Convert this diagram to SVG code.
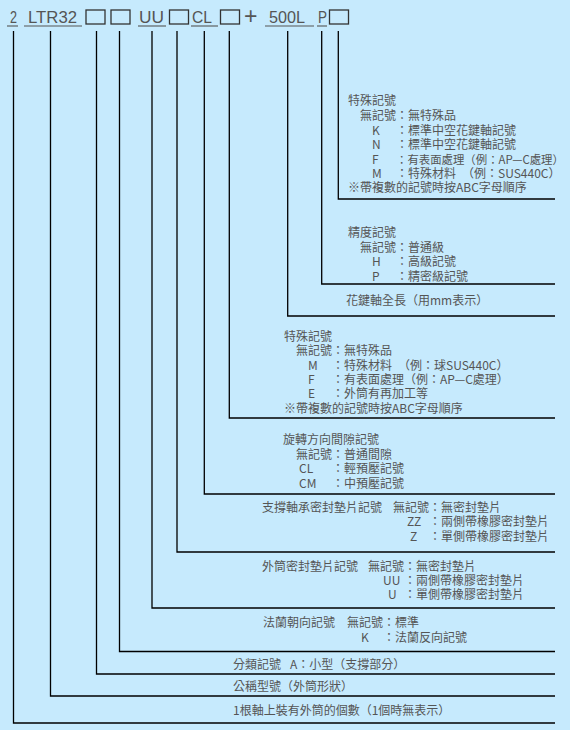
<svg xmlns="http://www.w3.org/2000/svg" width="570" height="730" viewBox="0 0 570 730">
<style>
.t{font-family:"Noto Sans CJK TC","Noto Sans CJK JP",sans-serif;font-size:12px;fill:#555}
.h{font-family:"Liberation Sans",Arial,sans-serif;font-size:16px;fill:#555}
.box{fill:none;stroke:#333;stroke-width:1.3}
.ul{stroke:#555;stroke-width:1.1}
.c{fill:none;stroke:#000;stroke-width:1.3}
</style>
<rect width="570" height="730" fill="#c6eafd"/>
<g id="code">
<text class="h" x="10" y="23" textLength="7" lengthAdjust="spacingAndGlyphs">2</text>
<line class="ul" x1="7" y1="26" x2="18" y2="26"/>
<text class="h" x="28" y="23" textLength="49" lengthAdjust="spacingAndGlyphs">LTR32</text>
<line class="ul" x1="24" y1="26" x2="82" y2="26"/>
<rect class="box" x="86" y="10" width="19" height="14"/>
<rect class="box" x="111" y="10" width="19" height="14"/>
<text class="h" x="139" y="23" textLength="25" lengthAdjust="spacingAndGlyphs">UU</text>
<line class="ul" x1="138" y1="26" x2="166" y2="26"/>
<rect class="box" x="169.5" y="10" width="19" height="14"/>
<text class="h" x="192" y="23" textLength="20" lengthAdjust="spacingAndGlyphs">CL</text>
<line class="ul" x1="191" y1="26" x2="218" y2="26"/>
<rect class="box" x="220.5" y="10" width="19" height="14"/>
<text class="h" x="244" y="24" style="font-size:23px">+</text>
<text class="h" x="269" y="23" textLength="36" lengthAdjust="spacingAndGlyphs">500L</text>
<line class="ul" x1="265" y1="26" x2="314" y2="26"/>
<text class="h" x="318" y="23" textLength="9" lengthAdjust="spacingAndGlyphs">P</text>
<line class="ul" x1="317" y1="26" x2="327" y2="26"/>
<rect class="box" x="329.5" y="10" width="19" height="14"/>
</g>
<g id="connectors">
<path class="c" d="M13.5 31V723H555"/>
<path class="c" d="M50.5 31V696H555"/>
<path class="c" d="M96.5 31V674H555"/>
<path class="c" d="M119.5 31V651.5H555"/>
<path class="c" d="M152 31V608H555"/>
<path class="c" d="M177 31V552H555"/>
<path class="c" d="M204.3 31V494H555"/>
<path class="c" d="M229.3 31V418H555"/>
<path class="c" d="M287.7 31V316H555"/>
<path class="c" d="M321.7 31V284H555"/>
<path class="c" d="M338.3 31V199H555"/>
</g>
<g id="special-shaft">
<text class="t" x="348" y="105">特殊記號</text>
<text class="t" x="360" y="120">無記號：無特殊品</text>
<text class="t" x="372" y="135">K</text><text class="t" x="396" y="135">：標準中空花鍵軸記號</text>
<text class="t" x="372" y="149">N</text><text class="t" x="396" y="149">：標準中空花鍵軸記號</text>
<text class="t" x="372" y="164">F</text><text class="t" x="396" y="164" style="font-size:11.4px">：有表面處理（例：AP—C處理）</text>
<text class="t" x="372" y="178">M</text><text class="t" x="396" y="178">：特殊材料　（例：SUS440C）</text>
<text class="t" x="348" y="192">※帶複數的記號時按ABC字母順序</text>
</g>
<g id="accuracy">
<text class="t" x="348" y="237">精度記號</text>
<text class="t" x="360" y="252">無記號：普通級</text>
<text class="t" x="372" y="266">H</text><text class="t" x="396" y="266">：高級記號</text>
<text class="t" x="372" y="281">P</text><text class="t" x="396" y="281">：精密級記號</text>
</g>
<g id="length">
<text class="t" x="346" y="305">花鍵軸全長（用mm表示）</text>
</g>
<g id="special-nut">
<text class="t" x="284" y="341">特殊記號</text>
<text class="t" x="296" y="355">無記號：無特殊品</text>
<text class="t" x="308" y="370">M</text><text class="t" x="332" y="370">：特殊材料　（例：球SUS440C）</text>
<text class="t" x="308" y="384">F</text><text class="t" x="332" y="384">：有表面處理（例：AP—C處理）</text>
<text class="t" x="308" y="398">E</text><text class="t" x="332" y="398">：外筒有再加工等</text>
<text class="t" x="284" y="413">※帶複數的記號時按ABC字母順序</text>
</g>
<g id="clearance">
<text class="t" x="283" y="444">旋轉方向間隙記號</text>
<text class="t" x="296" y="459">無記號：普通間隙</text>
<text class="t" x="299" y="473">CL</text><text class="t" x="332" y="473">：輕預壓記號</text>
<text class="t" x="299" y="488">CM</text><text class="t" x="332" y="488">：中預壓記號</text>
</g>
<g id="bearing-seal">
<text class="t" x="262" y="512">支撐軸承密封墊片記號</text>
<text class="t" x="393" y="512">無記號：無密封墊片</text>
<text class="t" x="407" y="526">ZZ</text><text class="t" x="429" y="526">：兩側帶橡膠密封墊片</text>
<text class="t" x="410" y="541">Z</text><text class="t" x="429" y="541">：單側帶橡膠密封墊片</text>
</g>
<g id="nut-seal">
<text class="t" x="262" y="571">外筒密封墊片記號</text>
<text class="t" x="368" y="571">無記號：無密封墊片</text>
<text class="t" x="383" y="585">UU</text><text class="t" x="404" y="585">：兩側帶橡膠密封墊片</text>
<text class="t" x="388" y="599">U</text><text class="t" x="404" y="599">：單側帶橡膠密封墊片</text>
</g>
<g id="flange">
<text class="t" x="263" y="627">法蘭朝向記號</text>
<text class="t" x="347" y="627">無記號：標準</text>
<text class="t" x="361" y="642">K</text><text class="t" x="383" y="642">：法蘭反向記號</text>
</g>
<g id="class">
<text class="t" x="233" y="669">分類記號</text><text class="t" x="290" y="669">A：小型（支撐部分）</text>
</g>
<g id="model">
<text class="t" x="233" y="691">公稱型號（外筒形狀）</text>
</g>
<g id="count">
<text class="t" x="233" y="715">1根軸上裝有外筒的個數（1個時無表示）</text>
</g>
</svg>
